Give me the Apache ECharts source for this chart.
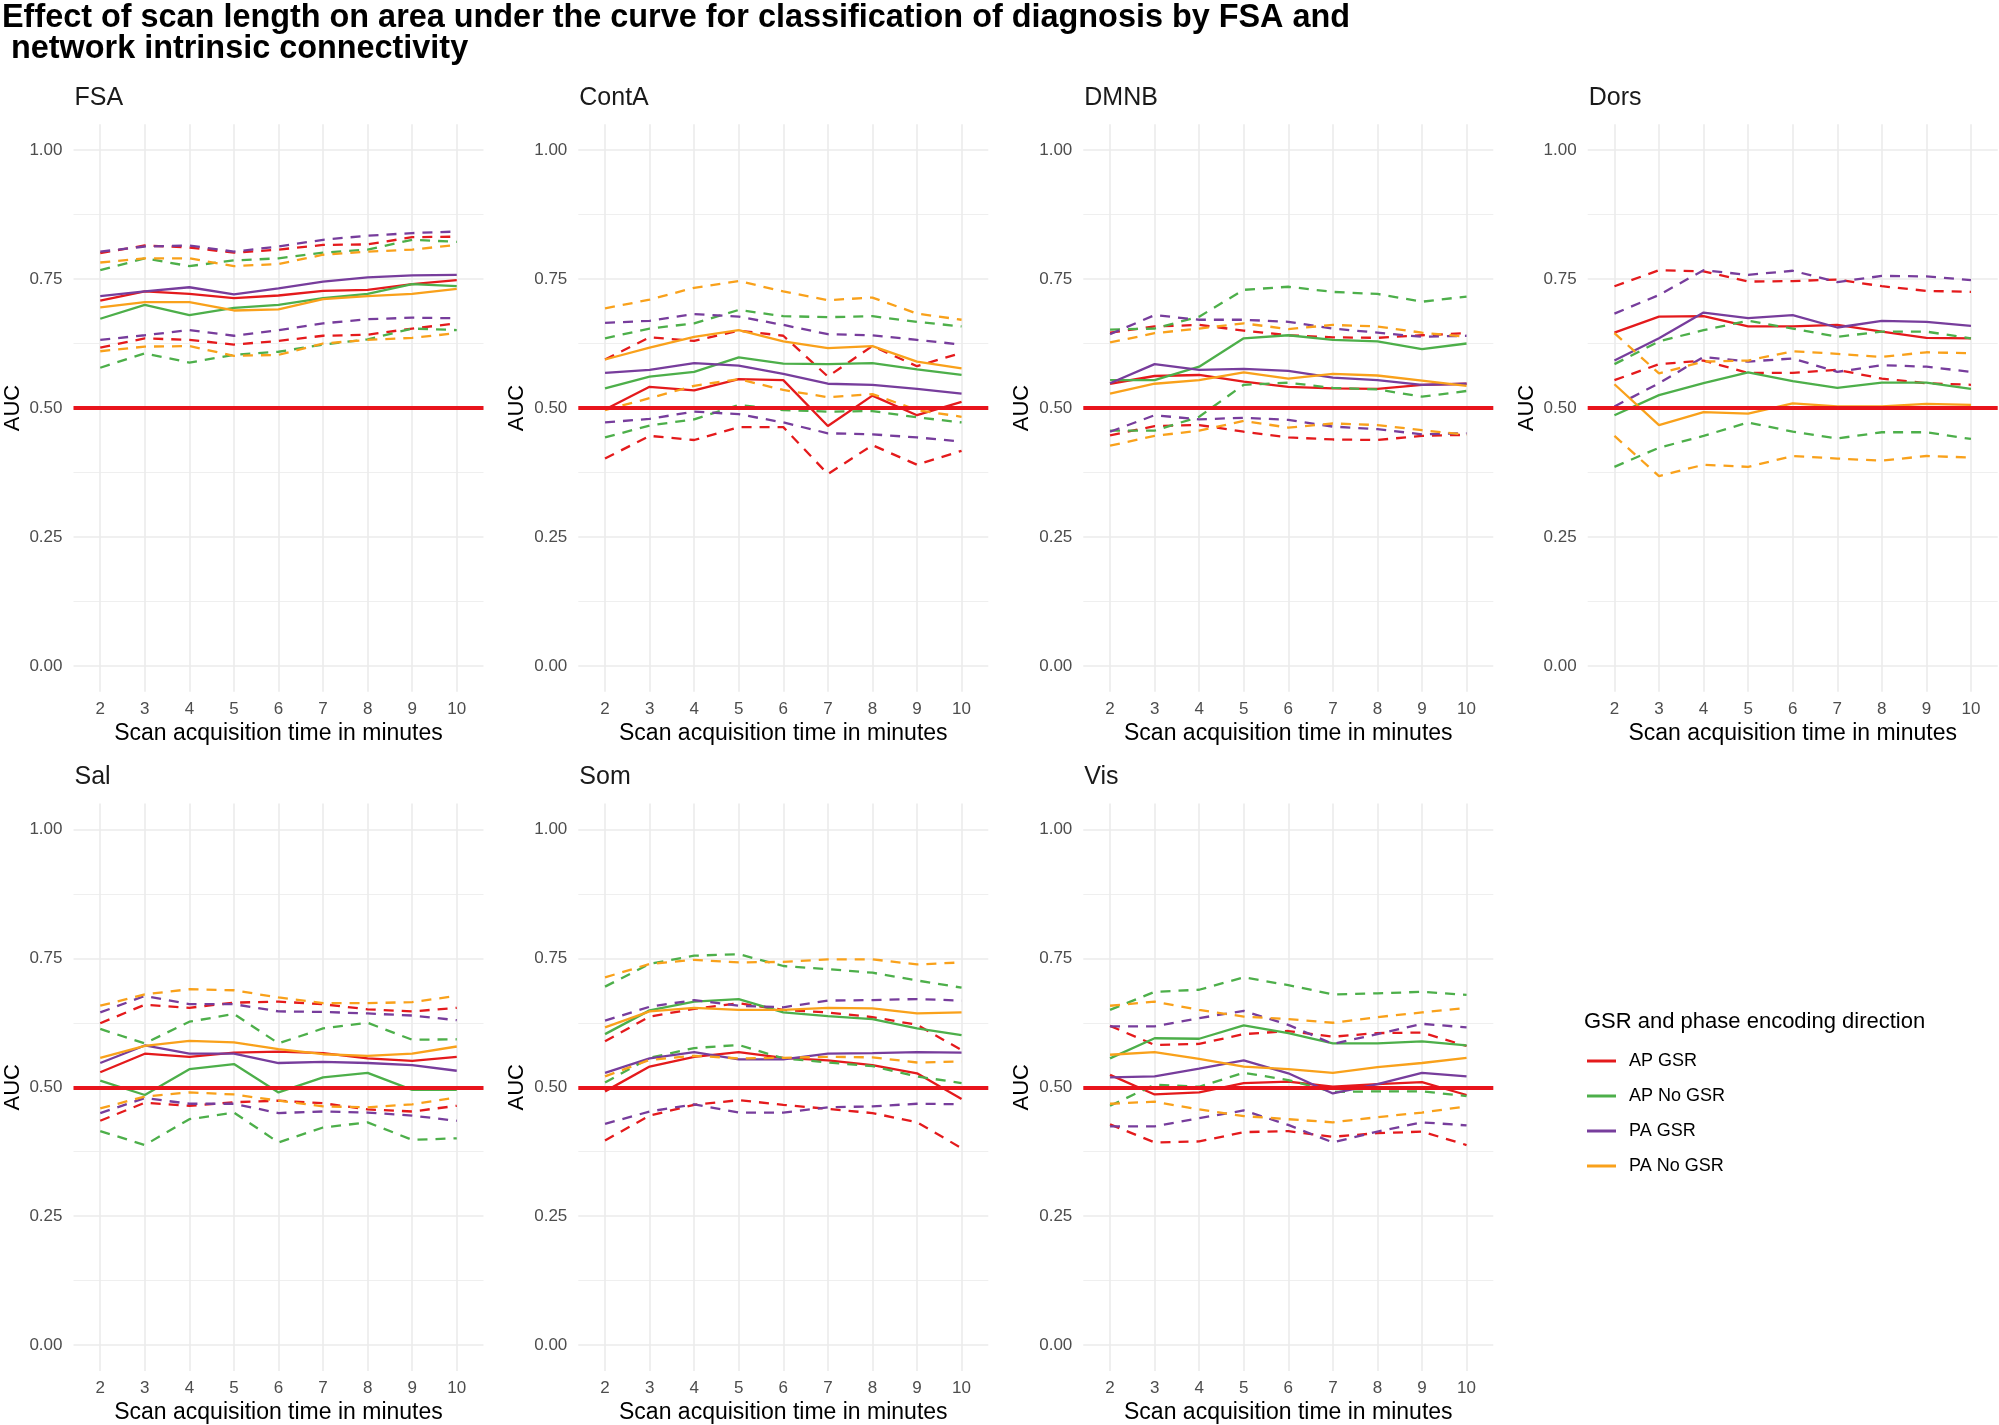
<!DOCTYPE html>
<html>
<head>
<meta charset="utf-8">
<script src="https://cdn.jsdelivr.net/npm/echarts@6/dist/echarts.min.js"></script>
<style>
html,body{margin:0;padding:0;background:#fff;}
#chart{width:1999px;height:1425px;}
</style>
</head>
<body>
<div id="chart"></div>
<script>
// ---------------- data ----------------
const minutes = [2, 3, 4, 5, 6, 7, 8, 9, 10];
const yTickLabels = ['0.00', '0.25', '0.50', '0.75', '1.00'];
const panelNames = ['FSA', 'ContA', 'DMNB', 'Dors', 'Sal', 'Som', 'Vis'];
const groupNames = ['AP GSR', 'AP No GSR', 'PA GSR', 'PA No GSR'];
const chanceLevel = 0.5;

// FSA
const FSA_AP_GSR_mean    = [0.708, 0.726, 0.721, 0.713, 0.718, 0.727, 0.729, 0.740, 0.748];
const FSA_AP_GSR_lower   = [0.617, 0.635, 0.632, 0.623, 0.630, 0.640, 0.642, 0.654, 0.664];
const FSA_AP_GSR_upper   = [0.800, 0.815, 0.811, 0.801, 0.807, 0.816, 0.817, 0.831, 0.832];
const FSA_AP_NoGSR_mean  = [0.673, 0.700, 0.680, 0.694, 0.700, 0.713, 0.721, 0.740, 0.736];
const FSA_AP_NoGSR_lower = [0.578, 0.606, 0.588, 0.603, 0.609, 0.623, 0.633, 0.654, 0.651];
const FSA_AP_NoGSR_upper = [0.767, 0.790, 0.775, 0.786, 0.790, 0.801, 0.807, 0.826, 0.822];
const FSA_PA_GSR_mean    = [0.717, 0.726, 0.734, 0.720, 0.732, 0.745, 0.753, 0.757, 0.758];
const FSA_PA_GSR_lower   = [0.632, 0.641, 0.651, 0.640, 0.651, 0.664, 0.672, 0.675, 0.674];
const FSA_PA_GSR_upper   = [0.803, 0.813, 0.815, 0.803, 0.813, 0.826, 0.834, 0.839, 0.842];
const FSA_PA_NoGSR_mean  = [0.695, 0.705, 0.705, 0.689, 0.691, 0.711, 0.717, 0.721, 0.731];
const FSA_PA_NoGSR_lower = [0.610, 0.619, 0.620, 0.601, 0.603, 0.625, 0.632, 0.636, 0.645];
const FSA_PA_NoGSR_upper = [0.782, 0.790, 0.790, 0.775, 0.779, 0.797, 0.803, 0.807, 0.816];

// ContA
const ContA_AP_GSR_mean    = [0.497, 0.541, 0.534, 0.556, 0.554, 0.465, 0.524, 0.486, 0.512];
const ContA_AP_GSR_lower   = [0.402, 0.446, 0.438, 0.463, 0.463, 0.372, 0.428, 0.390, 0.417];
const ContA_AP_GSR_upper   = [0.594, 0.637, 0.630, 0.650, 0.640, 0.561, 0.620, 0.581, 0.607];
const ContA_AP_NoGSR_mean  = [0.538, 0.561, 0.570, 0.598, 0.586, 0.585, 0.587, 0.575, 0.564];
const ContA_AP_NoGSR_lower = [0.443, 0.466, 0.478, 0.506, 0.496, 0.493, 0.494, 0.482, 0.472];
const ContA_AP_NoGSR_upper = [0.635, 0.654, 0.664, 0.690, 0.678, 0.676, 0.678, 0.667, 0.658];
const ContA_PA_GSR_mean    = [0.568, 0.574, 0.587, 0.582, 0.566, 0.547, 0.545, 0.537, 0.528];
const ContA_PA_GSR_lower   = [0.472, 0.479, 0.493, 0.488, 0.472, 0.451, 0.449, 0.443, 0.435];
const ContA_PA_GSR_upper   = [0.665, 0.669, 0.682, 0.677, 0.661, 0.643, 0.641, 0.632, 0.623];
const ContA_PA_NoGSR_mean  = [0.594, 0.617, 0.638, 0.651, 0.629, 0.616, 0.620, 0.590, 0.577];
const ContA_PA_NoGSR_lower = [0.496, 0.519, 0.543, 0.556, 0.535, 0.521, 0.527, 0.496, 0.483];
const ContA_PA_NoGSR_upper = [0.693, 0.710, 0.733, 0.746, 0.726, 0.709, 0.714, 0.683, 0.671];

// DMNB
const DMNB_AP_GSR_mean    = [0.547, 0.562, 0.564, 0.551, 0.541, 0.538, 0.537, 0.545, 0.547];
const DMNB_AP_GSR_lower   = [0.447, 0.465, 0.467, 0.454, 0.443, 0.439, 0.438, 0.446, 0.448];
const DMNB_AP_GSR_upper   = [0.646, 0.658, 0.661, 0.650, 0.641, 0.637, 0.636, 0.641, 0.645];
const DMNB_AP_NoGSR_mean  = [0.554, 0.554, 0.580, 0.635, 0.641, 0.632, 0.629, 0.614, 0.625];
const DMNB_AP_NoGSR_lower = [0.456, 0.456, 0.483, 0.545, 0.549, 0.539, 0.536, 0.522, 0.533];
const DMNB_AP_NoGSR_upper = [0.652, 0.654, 0.677, 0.729, 0.735, 0.725, 0.721, 0.706, 0.716];
const DMNB_PA_GSR_mean    = [0.548, 0.585, 0.574, 0.576, 0.572, 0.559, 0.554, 0.545, 0.547];
const DMNB_PA_GSR_lower   = [0.454, 0.486, 0.478, 0.481, 0.477, 0.464, 0.459, 0.449, 0.451];
const DMNB_PA_GSR_upper   = [0.643, 0.680, 0.671, 0.671, 0.667, 0.654, 0.646, 0.638, 0.640];
const DMNB_PA_NoGSR_mean  = [0.528, 0.547, 0.554, 0.569, 0.557, 0.566, 0.563, 0.553, 0.543];
const DMNB_PA_NoGSR_lower = [0.427, 0.446, 0.456, 0.475, 0.462, 0.470, 0.467, 0.457, 0.448];
const DMNB_PA_NoGSR_upper = [0.627, 0.645, 0.654, 0.664, 0.653, 0.661, 0.658, 0.646, 0.638];

// Dors
const Dors_AP_GSR_mean    = [0.646, 0.677, 0.678, 0.658, 0.658, 0.661, 0.648, 0.636, 0.635];
const Dors_AP_GSR_lower   = [0.554, 0.585, 0.592, 0.568, 0.568, 0.574, 0.557, 0.548, 0.545];
const Dors_AP_GSR_upper   = [0.736, 0.767, 0.765, 0.745, 0.746, 0.749, 0.736, 0.727, 0.725];
const Dors_AP_NoGSR_mean  = [0.486, 0.525, 0.548, 0.569, 0.552, 0.539, 0.549, 0.549, 0.537];
const Dors_AP_NoGSR_lower = [0.386, 0.423, 0.446, 0.472, 0.454, 0.441, 0.453, 0.453, 0.440];
const Dors_AP_NoGSR_upper = [0.585, 0.629, 0.651, 0.669, 0.654, 0.638, 0.648, 0.648, 0.635];
const Dors_PA_GSR_mean    = [0.592, 0.635, 0.685, 0.674, 0.680, 0.656, 0.669, 0.667, 0.659];
const Dors_PA_GSR_lower   = [0.503, 0.548, 0.599, 0.590, 0.596, 0.570, 0.583, 0.580, 0.570];
const Dors_PA_GSR_upper   = [0.683, 0.719, 0.767, 0.758, 0.766, 0.744, 0.756, 0.755, 0.748];
const Dors_PA_NoGSR_mean  = [0.546, 0.467, 0.492, 0.489, 0.509, 0.503, 0.503, 0.508, 0.506];
const Dors_PA_NoGSR_lower = [0.446, 0.368, 0.390, 0.386, 0.407, 0.402, 0.398, 0.407, 0.404];
const Dors_PA_NoGSR_upper = [0.645, 0.567, 0.590, 0.592, 0.610, 0.605, 0.599, 0.608, 0.606];

// Sal
const Sal_AP_GSR_mean    = [0.529, 0.565, 0.559, 0.567, 0.569, 0.566, 0.556, 0.551, 0.559];
const Sal_AP_GSR_lower   = [0.435, 0.470, 0.464, 0.471, 0.474, 0.469, 0.457, 0.453, 0.464];
const Sal_AP_GSR_upper   = [0.624, 0.660, 0.654, 0.664, 0.666, 0.661, 0.651, 0.647, 0.654];
const Sal_AP_NoGSR_mean  = [0.513, 0.485, 0.535, 0.545, 0.490, 0.519, 0.528, 0.495, 0.495];
const Sal_AP_NoGSR_lower = [0.415, 0.388, 0.438, 0.451, 0.393, 0.422, 0.432, 0.398, 0.401];
const Sal_AP_NoGSR_upper = [0.613, 0.585, 0.627, 0.642, 0.585, 0.614, 0.625, 0.592, 0.593];
const Sal_PA_GSR_mean    = [0.547, 0.581, 0.565, 0.565, 0.547, 0.549, 0.547, 0.543, 0.532];
const Sal_PA_GSR_lower   = [0.450, 0.479, 0.468, 0.468, 0.450, 0.453, 0.451, 0.445, 0.435];
const Sal_PA_GSR_upper   = [0.645, 0.677, 0.661, 0.661, 0.647, 0.646, 0.643, 0.639, 0.630];
const Sal_PA_NoGSR_mean  = [0.557, 0.580, 0.590, 0.587, 0.574, 0.564, 0.561, 0.565, 0.579];
const Sal_PA_NoGSR_lower = [0.459, 0.482, 0.490, 0.486, 0.474, 0.463, 0.461, 0.467, 0.480];
const Sal_PA_NoGSR_upper = [0.658, 0.680, 0.690, 0.688, 0.674, 0.663, 0.663, 0.665, 0.677];

// Som
const Som_AP_GSR_mean    = [0.492, 0.540, 0.559, 0.568, 0.557, 0.552, 0.543, 0.527, 0.477];
const Som_AP_GSR_lower   = [0.397, 0.445, 0.466, 0.475, 0.466, 0.458, 0.450, 0.432, 0.382];
const Som_AP_GSR_upper   = [0.589, 0.637, 0.652, 0.663, 0.650, 0.645, 0.636, 0.621, 0.572];
const Som_AP_NoGSR_mean  = [0.603, 0.649, 0.666, 0.671, 0.645, 0.638, 0.632, 0.614, 0.601];
const Som_AP_NoGSR_lower = [0.509, 0.557, 0.576, 0.582, 0.556, 0.548, 0.541, 0.521, 0.508];
const Som_AP_NoGSR_upper = [0.695, 0.739, 0.755, 0.758, 0.735, 0.729, 0.722, 0.707, 0.693];
const Som_PA_GSR_mean    = [0.528, 0.556, 0.568, 0.554, 0.554, 0.565, 0.566, 0.568, 0.567];
const Som_PA_GSR_lower   = [0.429, 0.453, 0.467, 0.451, 0.451, 0.461, 0.463, 0.468, 0.467];
const Som_PA_GSR_upper   = [0.629, 0.656, 0.669, 0.658, 0.655, 0.668, 0.669, 0.671, 0.668];
const Som_PA_NoGSR_mean  = [0.616, 0.647, 0.654, 0.650, 0.650, 0.654, 0.653, 0.643, 0.645];
const Som_PA_NoGSR_lower = [0.521, 0.553, 0.561, 0.556, 0.557, 0.559, 0.558, 0.548, 0.550];
const Som_PA_NoGSR_upper = [0.713, 0.739, 0.747, 0.742, 0.743, 0.748, 0.748, 0.738, 0.742];

// Vis
const Vis_AP_GSR_mean    = [0.524, 0.486, 0.490, 0.508, 0.511, 0.501, 0.506, 0.510, 0.485];
const Vis_AP_GSR_lower   = [0.428, 0.393, 0.395, 0.413, 0.415, 0.404, 0.411, 0.414, 0.388];
const Vis_AP_GSR_upper   = [0.619, 0.582, 0.584, 0.603, 0.609, 0.598, 0.605, 0.606, 0.580];
const Vis_AP_NoGSR_mean  = [0.556, 0.595, 0.594, 0.620, 0.605, 0.585, 0.585, 0.589, 0.581];
const Vis_AP_NoGSR_lower = [0.464, 0.505, 0.501, 0.528, 0.514, 0.491, 0.492, 0.492, 0.483];
const Vis_AP_NoGSR_upper = [0.650, 0.685, 0.689, 0.713, 0.698, 0.680, 0.682, 0.685, 0.679];
const Vis_PA_GSR_mean    = [0.519, 0.521, 0.536, 0.552, 0.527, 0.488, 0.506, 0.528, 0.521];
const Vis_PA_GSR_lower   = [0.424, 0.424, 0.440, 0.455, 0.427, 0.393, 0.414, 0.432, 0.426];
const Vis_PA_GSR_upper   = [0.618, 0.618, 0.634, 0.648, 0.621, 0.584, 0.603, 0.623, 0.616];
const Vis_PA_NoGSR_mean  = [0.563, 0.568, 0.555, 0.540, 0.535, 0.528, 0.539, 0.547, 0.557];
const Vis_PA_NoGSR_lower = [0.468, 0.472, 0.457, 0.444, 0.438, 0.432, 0.442, 0.451, 0.463];
const Vis_PA_NoGSR_upper = [0.658, 0.666, 0.650, 0.637, 0.632, 0.625, 0.636, 0.645, 0.654];

// table built from the arrays above: panel -> group -> [mean, lower, upper]
const table = {
  FSA:   [[FSA_AP_GSR_mean, FSA_AP_GSR_lower, FSA_AP_GSR_upper], [FSA_AP_NoGSR_mean, FSA_AP_NoGSR_lower, FSA_AP_NoGSR_upper], [FSA_PA_GSR_mean, FSA_PA_GSR_lower, FSA_PA_GSR_upper], [FSA_PA_NoGSR_mean, FSA_PA_NoGSR_lower, FSA_PA_NoGSR_upper]],
  ContA: [[ContA_AP_GSR_mean, ContA_AP_GSR_lower, ContA_AP_GSR_upper], [ContA_AP_NoGSR_mean, ContA_AP_NoGSR_lower, ContA_AP_NoGSR_upper], [ContA_PA_GSR_mean, ContA_PA_GSR_lower, ContA_PA_GSR_upper], [ContA_PA_NoGSR_mean, ContA_PA_NoGSR_lower, ContA_PA_NoGSR_upper]],
  DMNB:  [[DMNB_AP_GSR_mean, DMNB_AP_GSR_lower, DMNB_AP_GSR_upper], [DMNB_AP_NoGSR_mean, DMNB_AP_NoGSR_lower, DMNB_AP_NoGSR_upper], [DMNB_PA_GSR_mean, DMNB_PA_GSR_lower, DMNB_PA_GSR_upper], [DMNB_PA_NoGSR_mean, DMNB_PA_NoGSR_lower, DMNB_PA_NoGSR_upper]],
  Dors:  [[Dors_AP_GSR_mean, Dors_AP_GSR_lower, Dors_AP_GSR_upper], [Dors_AP_NoGSR_mean, Dors_AP_NoGSR_lower, Dors_AP_NoGSR_upper], [Dors_PA_GSR_mean, Dors_PA_GSR_lower, Dors_PA_GSR_upper], [Dors_PA_NoGSR_mean, Dors_PA_NoGSR_lower, Dors_PA_NoGSR_upper]],
  Sal:   [[Sal_AP_GSR_mean, Sal_AP_GSR_lower, Sal_AP_GSR_upper], [Sal_AP_NoGSR_mean, Sal_AP_NoGSR_lower, Sal_AP_NoGSR_upper], [Sal_PA_GSR_mean, Sal_PA_GSR_lower, Sal_PA_GSR_upper], [Sal_PA_NoGSR_mean, Sal_PA_NoGSR_lower, Sal_PA_NoGSR_upper]],
  Som:   [[Som_AP_GSR_mean, Som_AP_GSR_lower, Som_AP_GSR_upper], [Som_AP_NoGSR_mean, Som_AP_NoGSR_lower, Som_AP_NoGSR_upper], [Som_PA_GSR_mean, Som_PA_GSR_lower, Som_PA_GSR_upper], [Som_PA_NoGSR_mean, Som_PA_NoGSR_lower, Som_PA_NoGSR_upper]],
  Vis:   [[Vis_AP_GSR_mean, Vis_AP_GSR_lower, Vis_AP_GSR_upper], [Vis_AP_NoGSR_mean, Vis_AP_NoGSR_lower, Vis_AP_NoGSR_upper], [Vis_PA_GSR_mean, Vis_PA_GSR_lower, Vis_PA_GSR_upper], [Vis_PA_NoGSR_mean, Vis_PA_NoGSR_lower, Vis_PA_NoGSR_upper]]
};

// ---------------- styling / layout ----------------
const groupColors = ['#E41A1C', '#4DAF4A', '#773D9C', '#F9A11B'];
const FONT = '"Liberation Sans", Arial, Helvetica, sans-serif';
const colLeft = [73.5, 578.3, 1083.3, 1587.7];
const rowTop = [124.2, 803.5];
const panelW = 410;
const panelH = 567.6;
const gridColor = '#EBEBEB';

const grids = [], xAxes = [], yAxes = [], series = [], titles = [];

titles.push({
  text: 'Effect of scan length on area under the curve for classification of diagnosis by FSA and\n network intrinsic connectivity',
  left: 2, top: 3, padding: 0,
  textStyle: { fontFamily: FONT, fontSize: 32.4, fontWeight: 'bold', color: '#000', lineHeight: 31 }
});

panelNames.forEach((p, pi) => {
  const r = Math.floor(pi / 4), c = pi % 4;
  grids.push({ left: colLeft[c], top: rowTop[r], width: panelW, height: panelH, containLabel: false });
  titles.push({
    text: p, left: colLeft[c] + 1, top: rowTop[r] - 39, padding: 0,
    textStyle: { fontFamily: FONT, fontSize: 25, fontWeight: 'normal', color: '#1A1A1A' }
  });
  xAxes.push({
    type: 'value', gridIndex: pi, min: 1.4, max: 10.6, splitNumber: 9, minInterval: 1, maxInterval: 1,
    name: 'Scan acquisition time in minutes', nameLocation: 'middle', nameGap: 30,
    nameTextStyle: { fontFamily: FONT, fontSize: 23, color: '#000' },
    axisLine: { show: false }, axisTick: { show: false },
    axisLabel: {
      show: true, margin: 9, showMinLabel: false, showMaxLabel: false,
      fontFamily: FONT, fontSize: 17, color: '#4D4D4D',
      formatter: v => (minutes.indexOf(v) >= 0 ? String(v) : '')
    },
    splitLine: { show: true, showMinLine: false, showMaxLine: false, lineStyle: { color: gridColor, width: 1.6 } }
  });
  // major y axis
  yAxes.push({
    type: 'value', gridIndex: pi, min: -0.05, max: 1.05, splitNumber: 4, minInterval: 0.25, maxInterval: 0.25,
    name: 'AUC', nameLocation: 'middle', nameGap: 50, nameRotate: 90,
    nameTextStyle: { fontFamily: FONT, fontSize: 22, color: '#000' },
    axisLine: { show: false }, axisTick: { show: false },
    axisLabel: {
      margin: 11, showMinLabel: false, showMaxLabel: false,
      fontFamily: FONT, fontSize: 17, color: '#4D4D4D',
      formatter: v => {
        const k = Math.round(v / 0.25);
        return (Math.abs(v - k * 0.25) < 1e-6 && k >= 0 && k < yTickLabels.length) ? yTickLabels[k] : '';
      }
    },
    splitLine: { show: true, showMinLine: false, showMaxLine: false, lineStyle: { color: gridColor, width: 1.6 } }
  });
  // helper axis: shifted by half a step so its split lines fall on the minor grid positions
  yAxes.push({
    type: 'value', gridIndex: pi, position: 'right', min: -0.05 + 0.125, max: 1.05 + 0.125,
    splitNumber: 4, minInterval: 0.25, maxInterval: 0.25,
    axisLine: { show: false }, axisTick: { show: false }, axisLabel: { show: false },
    splitLine: { show: true, showMinLine: false, showMaxLine: false, lineStyle: { color: gridColor, width: 0.8 } }
  });

  const groupsData = table[p];
  groupNames.forEach((g, gi) => {
    const [mean, lower, upper] = groupsData[gi];
    const col = groupColors[gi];
    const base = {
      type: 'line', xAxisIndex: pi, yAxisIndex: 2 * pi, symbol: 'none', showSymbol: false,
      silent: true, animation: false, itemStyle: { color: col }, z: 2
    };
    series.push(Object.assign({}, base, {
      name: g, data: minutes.map((m, i) => [m, mean[i]]),
      lineStyle: { color: col, width: 2.3, type: 'solid' }
    }));
    series.push(Object.assign({}, base, {
      name: g + ' lower', data: minutes.map((m, i) => [m, lower[i]]),
      lineStyle: { color: col, width: 2.3, type: [10, 8] }
    }));
    const up = Object.assign({}, base, {
      name: g + ' upper', data: minutes.map((m, i) => [m, upper[i]]),
      lineStyle: { color: col, width: 2.3, type: [10, 8] }
    });
    if (gi === groupNames.length - 1) {
      up.z = 3;
      up.markLine = {
        silent: true, symbol: 'none', animation: false,
        label: { show: false },
        lineStyle: { color: '#E8141C', width: 4, type: 'solid' },
        data: [{ yAxis: chanceLevel }]
      };
    }
    series.push(up);
  });
});

titles.push({
  text: 'GSR and phase encoding direction', left: 1584, top: 1011, padding: 0,
  textStyle: { fontFamily: FONT, fontSize: 22, fontWeight: 'normal', color: '#000' }
});

const option = {
  backgroundColor: '#ffffff',
  animation: false,
  title: titles,
  grid: grids,
  xAxis: xAxes,
  yAxis: yAxes,
  legend: {
    data: groupNames,
    orient: 'vertical', left: 1587, top: 1052, padding: 0,
    icon: 'rect', itemWidth: 29, itemHeight: 3, itemGap: 17,
    selectedMode: false,
    textStyle: { fontFamily: FONT, fontSize: 18, color: '#000', padding: [0, 0, 0, 8] }
  },
  series: series
};

const chart = echarts.init(document.getElementById('chart'), null, { renderer: 'canvas' });
chart.setOption(option);
</script>
</body>
</html>
